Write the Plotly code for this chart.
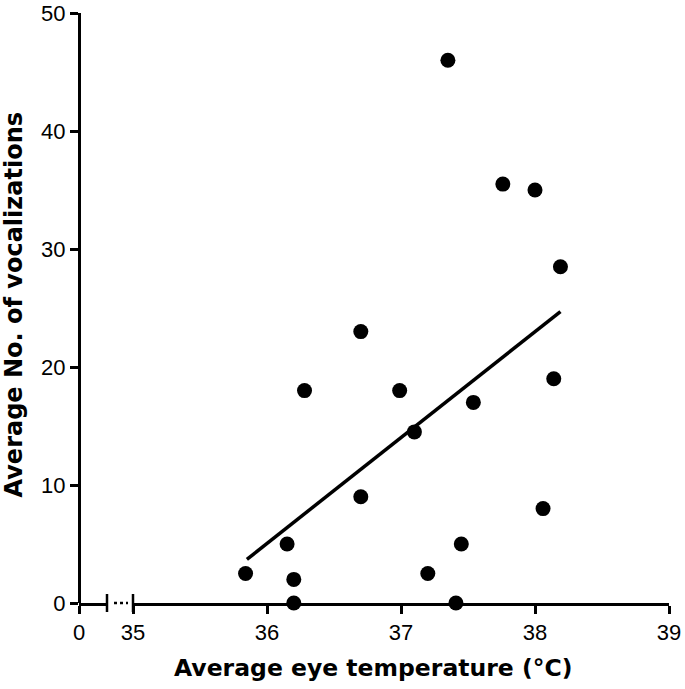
import plotly.graph_objects as go

# Data
eye_temp = [35.84, 36.15, 36.20, 36.20, 36.28, 36.70, 36.70, 36.99, 37.10, 37.20,
            37.35, 37.41, 37.45, 37.54, 37.76, 38.00, 38.06, 38.14, 38.19]
vocalizations = [2.5, 5.0, 2.0, 0.0, 18.0, 23.0, 9.0, 18.0, 14.5, 2.5,
                 46.0, 0.0, 5.0, 17.0, 35.5, 35.0, 8.0, 19.0, 28.5]
fit_x = [35.85, 38.19]
fit_y = [3.7, 24.7]

y_ticks = [0, 10, 20, 30, 40, 50]
x_ticks_main = [35, 36, 37, 38, 39]
x_ticks_first = [0]

W, H = 685, 689
ML, MR, MT, MB = 79, 16, 13, 86
PW = W - ML - MR  # 590
PH = H - MT - MB  # 590

seg1_end = 28 / PW
seg2_start = 54 / PW

fig = go.Figure()

# empty trace so the short first x segment exists as a subplot
fig.add_trace(go.Scatter(x=[None], y=[None], xaxis="x", yaxis="y",
                         mode="markers", showlegend=False, hoverinfo="skip"))
fig.add_trace(go.Scatter(
    x=fit_x, y=fit_y, mode="lines", xaxis="x2", yaxis="y",
    line=dict(color="black", width=3.5), showlegend=False, hoverinfo="skip",
))
fig.add_trace(go.Scatter(
    x=eye_temp, y=vocalizations, mode="markers", xaxis="x2", yaxis="y",
    marker=dict(color="black", size=15), cliponaxis=False, showlegend=False,
))

tickfont = dict(family="Liberation Sans, Arial", size=22, color="black")
titlefont = dict(family="DejaVu Sans", size=23.5, color="black", weight="bold")

axis_common = dict(
    ticks="outside", ticklen=8, tickwidth=2.5, tickcolor="black",
    showline=True, linewidth=3, linecolor="black",
    showgrid=False, zeroline=False, tickfont=tickfont, automargin=False,
    ticklabeloverflow="allow",
)

fig.update_layout(
    width=W, height=H,
    margin=dict(l=ML, r=MR, t=MT, b=MB, autoexpand=False),
    plot_bgcolor="white", paper_bgcolor="white",
    xaxis=dict(
        domain=[0, seg1_end], range=[0, 1], anchor="y",
        tickvals=x_ticks_first, ticktext=[str(v) for v in x_ticks_first],
        **axis_common,
    ),
    xaxis2=dict(
        domain=[seg2_start, 1], range=[35, 39], anchor="y",
        tickvals=x_ticks_main, ticktext=[str(v) for v in x_ticks_main],
        **axis_common,
    ),
    yaxis=dict(
        domain=[0, 1], range=[0, 50], anchor="free", position=0,
        tickvals=y_ticks, ticktext=[str(v) for v in y_ticks],
        **axis_common,
    ),
    shapes=[
        # break ticks crossing the axis line
        dict(type="line", xref="paper", yref="paper", x0=seg1_end, x1=seg1_end,
             y0=-9 / PH, y1=9 / PH, line=dict(color="black", width=2.5)),
        dict(type="line", xref="paper", yref="paper", x0=seg2_start, x1=seg2_start,
             y0=-9 / PH, y1=9 / PH, line=dict(color="black", width=2.5)),
        # dotted break
        dict(type="line", xref="paper", yref="paper", x0=35 / PW, x1=49 / PW,
             y0=0, y1=0, line=dict(color="black", width=2.5, dash="3px,3px")),
    ],
    annotations=[
        dict(text="Average eye temperature (°C)", xref="paper", yref="paper",
             x=(373 - ML) / PW, y=-(668 - (MT + PH)) / PH, xanchor="center", yanchor="middle",
             showarrow=False, font=titlefont),
        dict(text="Average No. of vocalizations", xref="paper", yref="paper",
             x=(13 - ML) / PW, y=(MT + PH - 304.5) / PH, xanchor="center", yanchor="middle",
             textangle=-90, showarrow=False, font=dict(titlefont, size=24)),
    ],
)

fig.write_html("out.html", config={"displayModeBar": False},
               post_script="document.body.style.margin='0';")
